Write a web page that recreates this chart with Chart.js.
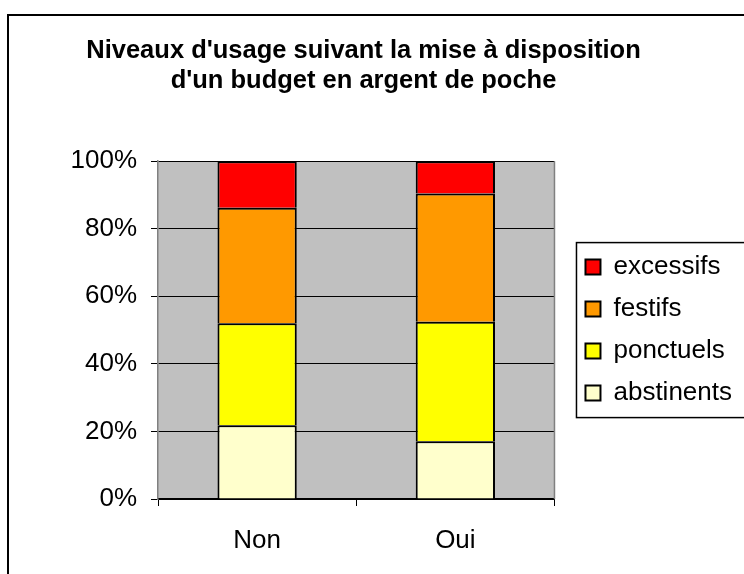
<!DOCTYPE html>
<html>
<head>
<meta charset="utf-8">
<script src="https://cdn.jsdelivr.net/npm/chart.js@4"></script>
<style>
  body { margin: 0; background: #fff; }
  #frame { position: absolute; left: 7px; top: 14px; width: 780px; height: 620px; border: 2px solid #000; }
  #wrap { position: absolute; left: 0; top: 0; width: 744px; height: 574px; }
</style>
</head>
<body>
<div id="frame"></div>
<div id="wrap"><canvas id="usageChart"></canvas></div>
<script>
const categories = ['Non', 'Oui'];
const abstinents = [21.8, 17.1];
const ponctuels = [30.2, 35.4];
const festifs = [34.2, 37.9];
const excessifs = [13.8, 9.6];
const yTicks = [0, 20, 40, 60, 80, 100];

const FONT = '"Liberation Sans", Arial, sans-serif';
Chart.defaults.color = '#000';
Chart.defaults.font.family = FONT;

// grey plot background, legend frame, grey right edge of plot
const decor = {
    id: 'decor',
    beforeDraw(chart) {
        const a = chart.chartArea;
        const ctx = chart.ctx;
        ctx.save();
        ctx.fillStyle = '#c0c0c0';
        ctx.fillRect(a.left, a.top, a.right - a.left, a.bottom - a.top);
        ctx.restore();
    },
    afterLayout(chart) {
        // push the legend a bit away from the plot like Excel does
        chart.legend.left += 15;
        chart.legend.right += 15;
    },
    afterDraw(chart) {
        const a = chart.chartArea;
        const ctx = chart.ctx;
        ctx.save();
        ctx.strokeStyle = '#808080';
        ctx.lineWidth = 1.5;
        ctx.beginPath();
        ctx.moveTo(a.right, a.top);
        ctx.lineTo(a.right, a.bottom);
        ctx.stroke();

        const lg = chart.legend;
        const mid = (lg.top + lg.bottom) / 2;
        const h = lg.columnSizes[0].height + 7;
        ctx.strokeStyle = '#000';
        ctx.lineWidth = 1.5;
        ctx.strokeRect(lg.left + 7, mid - h / 2, 300, h);
        ctx.restore();
    }
};

const ctx = document.getElementById('usageChart').getContext('2d');
new Chart(ctx, {
    type: 'bar',
    data: {
        labels: categories,
        datasets: [
            { label: 'abstinents', data: abstinents, backgroundColor: '#ffffcc' },
            { label: 'ponctuels', data: ponctuels, backgroundColor: '#ffff00' },
            { label: 'festifs', data: festifs, backgroundColor: '#ff9900' },
            { label: 'excessifs', data: excessifs, backgroundColor: '#ff0000' }
        ].map(d => Object.assign(d, {
            borderColor: '#000',
            borderWidth: 2,
            borderSkipped: 'bottom',
            categoryPercentage: 0.8,
            barPercentage: 0.5
        }))
    },
    options: {
        responsive: true,
        maintainAspectRatio: false,
        animation: false,
        layout: { padding: { top: 0, left: 0, right: 17, bottom: 0 } },
        plugins: {
            title: {
                display: true,
                text: ["Niveaux d'usage suivant la mise à disposition", "d'un budget en argent de poche"],
                font: { size: 25.5, weight: 'bold', lineHeight: 1.18 },
                color: '#000',
                padding: { top: 36, bottom: 65 }
            },
            legend: {
                position: 'right',
                fullSize: false,
                reverse: true,
                labels: {
                    boxWidth: 15,
                    boxHeight: 15,
                    padding: 16,
                    font: { size: 26 },
                    color: '#000'
                }
            },
            tooltip: { enabled: false }
        },
        scales: {
            x: {
                stacked: true,
                grid: { display: true, drawOnChartArea: false, color: '#000', tickLength: 7 },
                border: { color: '#000', width: 1.5 },
                ticks: { font: { size: 26 }, padding: 19, color: '#000' },
                afterFit(scale) { scale.height = 75; }
            },
            y: {
                stacked: true,
                min: 0,
                max: 100,
                afterBuildTicks(scale) { scale.ticks = yTicks.map(v => ({ value: v })); },
                grid: { color: '#000', tickLength: 7, lineWidth: 1 },
                border: { color: '#808080', width: 1.5 },
                ticks: {
                    font: { size: 26 },
                    padding: 14,
                    color: '#000',
                    callback: v => v + '%'
                },
                afterFit(scale) { scale.width = 158; }
            }
        }
    },
    plugins: [decor]
});
</script>
</body>
</html>
